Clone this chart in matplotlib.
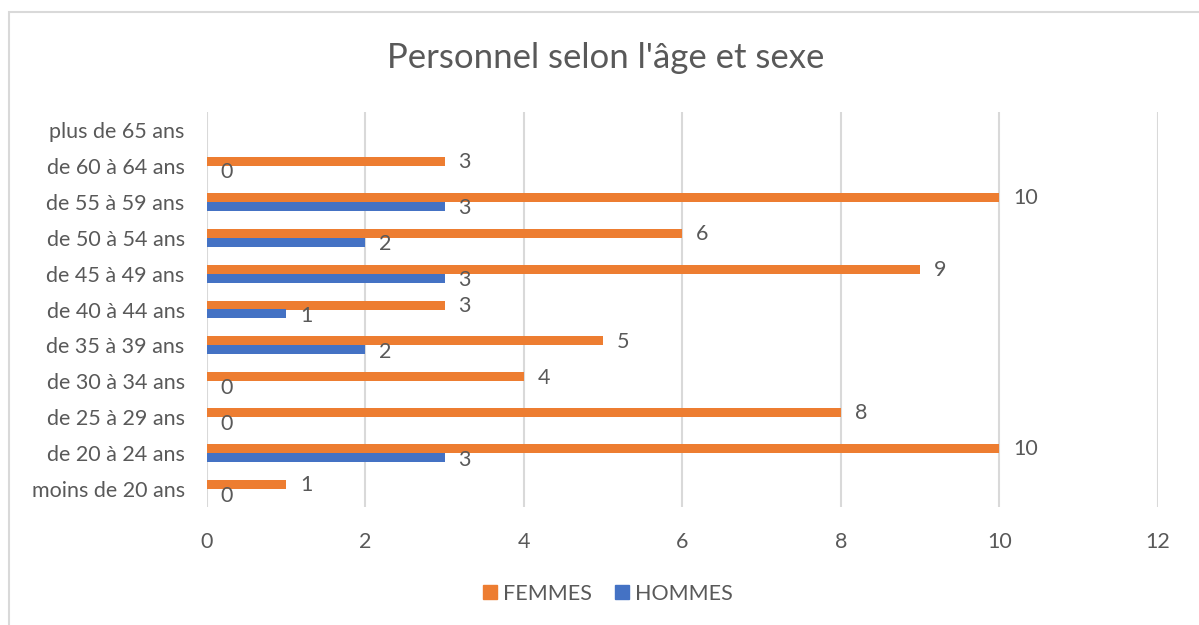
import matplotlib
matplotlib.use("Agg")
import matplotlib.pyplot as plt
from matplotlib.lines import Line2D
import numpy as np

plt.rcParams['font.family'] = ['Lato', 'DejaVu Sans']

categories = ["moins de 20 ans", "de 20 à 24 ans", "de 25 à 29 ans", "de 30 à 34 ans",
              "de 35 à 39 ans", "de 40 à 44 ans", "de 45 à 49 ans", "de 50 à 54 ans",
              "de 55 à 59 ans", "de 60 à 64 ans", "plus de 65 ans"]
femmes = [1, 10, 8, 4, 5, 3, 9, 6, 10, 3, np.nan]
hommes = [0, 3, 0, 0, 2, 1, 3, 2, 3, 0, np.nan]
xticks = [0, 2, 4, 6, 8, 10, 12]

orange = "#ED7D31"
blue = "#4472C4"
txt = "#595959"
fs = 15.5

fig = plt.figure(figsize=(11.99, 6.25), dpi=100)
ax = fig.add_axes([0.1726, 0.1888, 0.7932, 0.632])

y = np.arange(len(categories))
h = 0.25
ax.barh(y + h / 2, femmes, height=h, color=orange, label="FEMMES")
ax.barh(y - h / 2, hommes, height=h, color=blue, label="HOMMES")

# étiquettes de données
for yy, v in zip(y + h / 2, femmes):
    if not np.isnan(v):
        ax.annotate("%d" % v, (v, yy), xytext=(10, -0.5), textcoords="offset points",
                    ha="left", va="center", fontsize=fs, color=txt)
for yy, v in zip(y - h / 2, hommes):
    if not np.isnan(v):
        ax.annotate("%d" % v, (v, yy), xytext=(10, -1.5), textcoords="offset points",
                    ha="left", va="center", fontsize=fs, color=txt)

ax.set_xlim(0, 12)
ax.set_ylim(-0.5, len(categories) - 0.5)
ax.set_xticks(xticks)
ax.set_yticks(y)
ax.set_yticklabels(categories)
ax.tick_params(axis="both", length=0, labelsize=fs, colors=txt)
ax.tick_params(axis="x", pad=18)
ax.tick_params(axis="y", pad=16)
ax.grid(axis="x", color="#D9D9D9", linewidth=1.5)
ax.set_axisbelow(True)
for s in ax.spines.values():
    s.set_visible(False)

fig.text(0.5055, 0.908, "Personnel selon l'âge et sexe", ha="center", va="center",
         fontsize=25, color=txt)

handles = [Line2D([], [], marker="s", linestyle="none", markersize=10,
                  color=orange, label="FEMMES"),
           Line2D([], [], marker="s", linestyle="none", markersize=10,
                  color=blue, label="HOMMES")]
fig.legend(handles=handles, loc="center", bbox_to_anchor=(0.507, 0.05), ncol=2,
           frameon=False, fontsize=fs, labelcolor=txt, handlelength=0.65,
           columnspacing=1.1, handletextpad=0.25)

border = plt.Rectangle((9 / 1199, -0.05), 1.2, 1 - 12 / 625 + 0.05,
                       transform=fig.transFigure, fill=False,
                       edgecolor="#D9D9D9", linewidth=1.5)
fig.patches.append(border)

fig.savefig("out.png", dpi=100)
